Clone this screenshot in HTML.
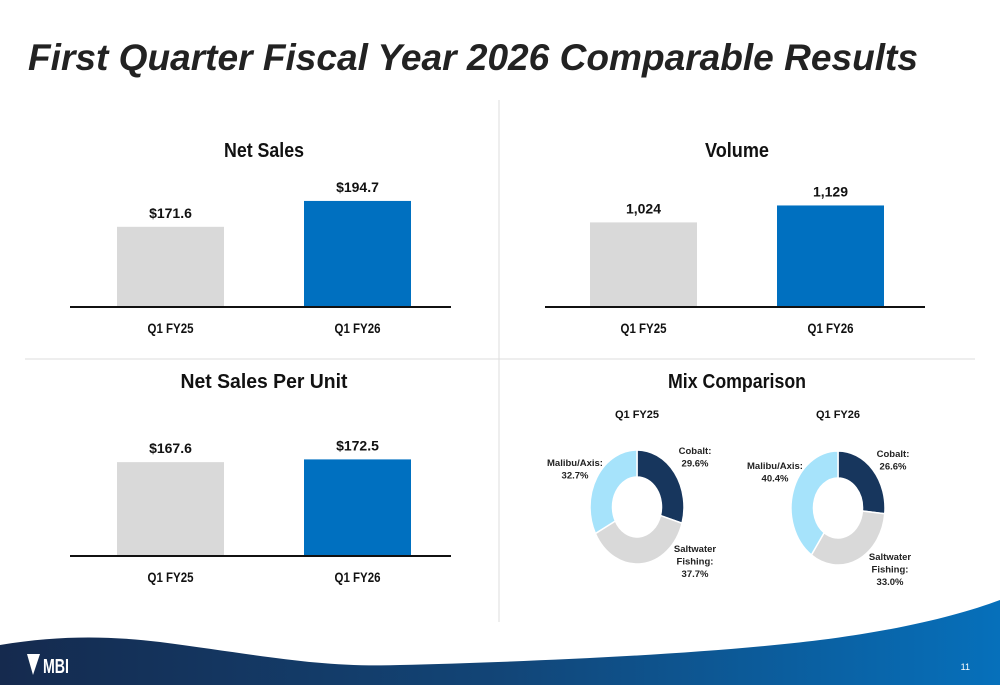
<!DOCTYPE html>
<html><head><meta charset="utf-8"><style>
html,body{margin:0;padding:0;background:#fff;}
svg{display:block;font-family:"Liberation Sans",sans-serif;}
</style></head><body>
<svg id="s" width="1000" height="685" viewBox="0 0 1000 685">
<defs>
<linearGradient id="fg" x1="0" x2="1" y1="0" y2="0"><stop offset="0" stop-color="#152a4e"/><stop offset="0.5" stop-color="#124577"/><stop offset="1" stop-color="#0670bb"/></linearGradient>
</defs>
<text x="28" y="70" font-size="37" font-weight="bold" font-style="italic" fill="#222" textLength="890" lengthAdjust="spacingAndGlyphs">First Quarter Fiscal Year 2026 Comparable Results</text>
<line x1="499" y1="100" x2="499" y2="622" stroke="#ddd" stroke-width="1"/>
<line x1="25" y1="359" x2="975" y2="359" stroke="#ddd" stroke-width="1"/>
<g id="charts"></g>
<path d="M0,645 C60,635 110,636 160,642 C260,655 320,668 400,665 C520,662 700,655 820,640 C900,630 960,615 1000,600 L1000,685 L0,685 Z" fill="url(#fg)"/>
<g>
<path d="M27,654 L40,654 L33,675 Z" fill="#fff"/>
<text x="43" y="673" font-size="20" font-weight="bold" fill="#fff" textLength="26" lengthAdjust="spacingAndGlyphs">MBI</text>
</g>
<text x="970" y="670" font-size="9" fill="#fff" text-anchor="end">11</text>
</svg>
<script>
const barCategories = ["Q1 FY25", "Q1 FY26"];
const netSalesValues = [171.6, 194.7];
const netSalesLabels = ["$171.6", "$194.7"];
const volumeValues = [1024, 1129];
const volumeLabels = ["1,024", "1,129"];
const nspuValues = [167.6, 172.5];
const nspuLabels = ["$167.6", "$172.5"];
const mixSegments = ["Cobalt", "Saltwater Fishing", "Malibu/Axis"];
const mixFY25 = [29.6, 37.7, 32.7];
const mixFY26 = [26.6, 33.0, 40.4];

const NS = "http://www.w3.org/2000/svg";
const root = document.getElementById('charts');
const barColors = ["#d9d9d9", "#0070c0"];
const mixColors = ["#17365d", "#d9d9d9", "#a6e3fb"];

function mk(tag, attrs, parent, text) {
  const e = document.createElementNS(NS, tag);
  for (const k in attrs) e.setAttribute(k, attrs[k]);
  if (text !== undefined) e.textContent = text;
  (parent || root).appendChild(e);
  return e;
}

function barChart(name, title, titleW, x0, axisL, axisR, baseY, titleY, dmin, dmax, rangePx, values, labels) {
  const g = mk('g', {});
  
  
  const t = mk('text', {x: x0, y: titleY, 'font-size': 20, 'text-anchor': 'middle', fill: '#111', 'font-weight': 'bold', textLength: titleW, lengthAdjust: 'spacingAndGlyphs'}, g, title);
  
  
  const yScale = v => baseY - (v - dmin) / (dmax - dmin) * rangePx;
  const bw = 107, centers = [x0 - 93.5, x0 + 93.5];
  values.forEach((v, i) => {
    const y = yScale(v);
    const r = mk('rect', {x: centers[i] - bw / 2, y: y, width: bw, height: baseY - y, fill: barColors[i]}, g);
    
    
    const l = mk('text', {x: centers[i], y: y - 9, 'font-size': 14, 'font-weight': 'bold', 'text-anchor': 'middle', fill: '#111'}, g, labels[i]);
    
    
    const c = mk('text', {x: centers[i], y: baseY + 26, 'font-size': 14, 'font-weight': 'bold', 'text-anchor': 'middle', fill: '#111', textLength: 46, lengthAdjust: 'spacingAndGlyphs'}, g, barCategories[i]);
    
    
  });
  const ax = mk('line', {x1: axisL, x2: axisR, y1: baseY, y2: baseY, stroke: '#111', 'stroke-width': 2}, g);
  
  
}

barChart('net-sales-chart', 'Net Sales', 80, 264, 70, 451, 307, 157, 100, 200, 112, netSalesValues, netSalesLabels);
barChart('volume-chart', 'Volume', 64, 737, 545, 925, 307, 157, 500, 1200, 113, volumeValues, volumeLabels);
barChart('net-sales-per-unit-chart', 'Net Sales Per Unit', 167, 264, 70, 451, 556, 388, 0, 200, 112, nspuValues, nspuLabels);

const mt = mk('text', {x: 737, y: 388, 'font-size': 20, 'font-weight': 'bold', 'text-anchor': 'middle', fill: '#111', textLength: 138, lengthAdjust: 'spacingAndGlyphs'}, root, 'Mix Comparison');



function donut(name, label, cx, cy, rx, ry, irx, iry, values, labelPos) {
  const g = mk('g', {});
  
  
  const hl = mk('text', {x: cx, y: 418, 'font-size': 11, 'font-weight': 'bold', 'text-anchor': 'middle', fill: '#111'}, g, label);
  
  
  const total = values.reduce((a, b) => a + b, 0);
  let acc = 0;
  values.forEach((v, i) => {
    const a0 = acc / total * 2 * Math.PI, a1 = (acc + v) / total * 2 * Math.PI;
    acc += v;
    const P = (a, sx, sy) => [cx + sx * Math.sin(a), cy - sy * Math.cos(a)];
    const large = (a1 - a0) > Math.PI ? 1 : 0;
    const o0 = P(a0, rx, ry), o1 = P(a1, rx, ry), i1 = P(a1, irx, iry), i0 = P(a0, irx, iry);
    const d = `M${o0[0]},${o0[1]} A${rx},${ry} 0 ${large} 1 ${o1[0]},${o1[1]} L${i1[0]},${i1[1]} A${irx},${iry} 0 ${large} 0 ${i0[0]},${i0[1]} Z`;
    const p = mk('path', {d: d, fill: mixColors[i], stroke: '#fff', 'stroke-width': 1.5}, g);
    
    
    const lines = (mixSegments[i] === 'Saltwater Fishing' ? ['Saltwater', 'Fishing:'] : [mixSegments[i] + ':']).concat([v.toFixed(1) + '%']);
    const lp = labelPos[i];
    const tx = mk('text', {'font-size': 9.5, 'font-weight': 'bold', 'text-anchor': 'middle', fill: '#222'}, g);
    
    
    lines.forEach((ln, k) => mk('tspan', {x: lp[0], y: lp[1] + k * 12.5}, tx, ln));
  });
}

donut('donut-q1-fy25', 'Q1 FY25', 637, 507, 47, 57, 24.5, 30, mixFY25, [[695, 454], [695, 552], [575, 466]]);
donut('donut-q1-fy26', 'Q1 FY26', 838, 508, 47, 57, 24.5, 30, mixFY26, [[893, 457], [890, 560], [775, 469]]);
</script>
</body></html>
